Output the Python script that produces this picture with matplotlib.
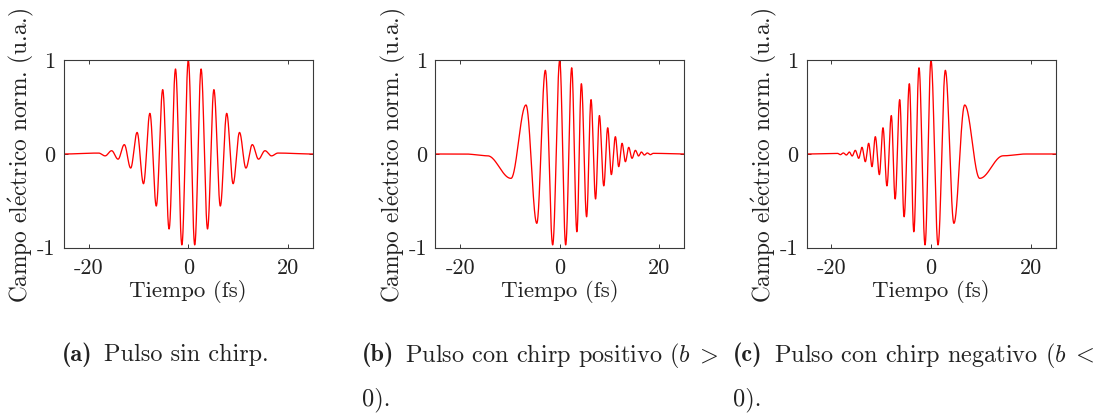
import warnings
warnings.filterwarnings("ignore")
import numpy as np
import matplotlib
matplotlib.use("Agg")
import matplotlib.pyplot as plt

# ---------------- data (extrema) ----------------
# (a) pulse without chirp
a_t = [-25, -18.0, -16.7, -15.4, -14.1, -12.85, -11.57, -10.28, -9.0, -7.71,
       -6.43, -5.14, -3.86, -2.57, -1.29, 0.0, 1.29, 2.57, 3.86, 5.14, 6.43,
       7.71, 9.0, 10.28, 11.57, 12.85, 14.1, 15.4, 16.7, 18.0, 25]
a_v = [0, 0.01, -0.02, 0.035, -0.055, 0.10, -0.15, 0.23, -0.317, 0.434,
       -0.555, 0.687, -0.80, 0.907, -0.97, 1.0, -0.97, 0.907, -0.80, 0.687,
       -0.555, 0.434, -0.317, 0.23, -0.15, 0.10, -0.055, 0.035, -0.02, 0.01, 0]

# (b) pulse with positive chirp
b_t = [-25, -19.0, -14.5, -9.78, -6.77, -4.6, -2.88, -1.41, 0.0, 1.20, 2.41,
       3.45, 4.35, 5.40, 6.29, 7.20, 7.97, 8.85, 9.64, 10.37, 11.18, 11.85,
       12.52, 13.19, 13.86, 14.52, 15.2, 15.83, 16.4, 17.0, 17.6, 18.2, 18.8, 25]
b_v = [0, 0, -0.019, -0.26, 0.523, -0.74, 0.893, -0.97, 1.0, -0.97, 0.92,
       -0.83, 0.75, -0.67, 0.58, -0.48, 0.41, -0.34, 0.28, -0.22, 0.185, -0.135,
       0.114, -0.082, 0.071, -0.046, 0.039, -0.021, 0.021, -0.011, 0.011,
       -0.007, 0.007, 0]

# (c) pulse with negative chirp
c_t = [-25, -18.8, -18.2, -17.6, -17.0, -16.4, -15.83, -15.2, -14.52, -13.86,
       -13.19, -12.52, -11.85, -11.18, -10.37, -9.64, -8.85, -7.97, -7.20, -6.29,
       -5.40, -4.35, -3.45, -2.41, -1.20, 0.0, 1.41, 2.88, 4.6, 6.77, 9.78,
       14.5, 19.0, 25]
c_v = [0, 0.007, -0.007, 0.011, -0.011, 0.021, -0.021, 0.039, -0.046, 0.071,
       -0.082, 0.114, -0.135, 0.185, -0.22, 0.28, -0.34, 0.41, -0.48, 0.58,
       -0.67, 0.75, -0.83, 0.92, -0.97, 1.0, -0.97, 0.893, -0.74, 0.523, -0.26,
       -0.019, 0, 0]

x_ticks = [-20, 0, 20]
x_ticklabels = ["-20", "0", "20"]
y_ticks = [-1, 0, 1]
y_ticklabels = ["-1", "0", "1"]

xlabel = "Tiempo (fs)"
ylabel = r"Campo el$\mathrm{\acute{e}}$ctrico norm. (u.a.)"
cap_tags = ["(a)", "(b)", "(c)"]
cap_line1 = ["Pulso sin chirp.",
             r"Pulso con chirp positivo ($b\;>$",
             r"Pulso con chirp negativo ($b\;<$"]
cap_line2 = [None, "0).", "0)."]
series = [(a_t, a_v), (b_t, b_v), (c_t, c_v)]

# ---------------- style ----------------
plt.rcParams.update({
    "font.family": ["cmr10", "DejaVu Serif"],
    "mathtext.fontset": "cm",
    "axes.unicode_minus": False,
})


def trace(tk, vk, n=60):
    """Smooth half-cosine path through consecutive extrema."""
    ts, vs = [], []
    for i in range(len(tk) - 1):
        s = np.linspace(0, 1, n, endpoint=False)
        ts.append(tk[i] + (tk[i + 1] - tk[i]) * s)
        vs.append(0.5 * (vk[i] + vk[i + 1]) + 0.5 * (vk[i] - vk[i + 1]) * np.cos(np.pi * s))
    ts.append([tk[-1]])
    vs.append([vk[-1]])
    return np.concatenate(ts), np.concatenate(vs)


W, H = 1101, 415
fig = plt.figure(figsize=(W / 100, H / 100), dpi=100)

lefts_px = [63.8, 435.2, 806.5]
width_px = 249
top_px, bottom_px = 60.3, 247.7
frame_col = "#3a3a3a"
txt_col = "#222222"

for k, (tk, vk) in enumerate(series):
    ax = fig.add_axes([lefts_px[k] / W, (H - bottom_px) / H, width_px / W,
                       (bottom_px - top_px) / H])
    t, v = trace(tk, vk)
    ax.plot(t, v, color="#ff0000", lw=0.95)
    ax.set_xlim(-25, 25)
    ax.set_ylim(-1, 1)
    ax.set_xticks(x_ticks)
    ax.set_xticklabels(x_ticklabels)
    ax.set_yticks(y_ticks)
    ax.set_yticklabels(y_ticklabels)
    ax.tick_params(direction="in", length=3, width=0.7, color=frame_col,
                   labelsize=16, top=True, right=True, labelcolor=txt_col)
    ax.tick_params(axis="x", pad=8)
    ax.tick_params(axis="y", pad=6)
    for sp in ax.spines.values():
        sp.set_color(frame_col)
        sp.set_linewidth(0.8)
    ax.set_xlabel(xlabel, fontsize=16.5, color=txt_col)
    ax.set_ylabel(ylabel, fontsize=16.8, color=txt_col)
    ax.xaxis.set_label_coords(0.5, -0.17)
    ax.yaxis.set_label_coords(-0.11, 0.49)

renderer = fig.canvas.get_renderer()
cap_x_px = [62, 362, 733]
for k in range(3):
    tag = fig.text(cap_x_px[k] / W, 1 - 355 / H, cap_tags[k], fontsize=17.5,
                   va="center", ha="left", color=txt_col, fontfamily="cmb10")
    bb = tag.get_window_extent(renderer)
    fig.text((bb.x1 + 11) / W, 1 - 355 / H, cap_line1[k], fontsize=17.5,
             va="center", ha="left", color=txt_col)
    if cap_line2[k]:
        fig.text(cap_x_px[k] / W, 1 - 400 / H, cap_line2[k], fontsize=17.5,
                 va="center", ha="left", color=txt_col)

fig.savefig("out.png", dpi=100)
